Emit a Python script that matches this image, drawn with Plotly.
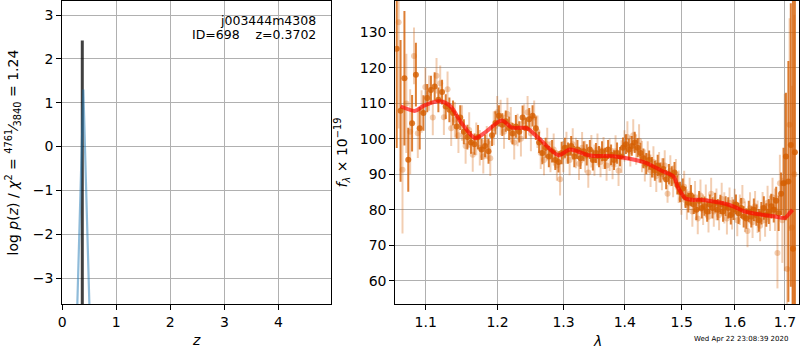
import plotly.graph_objects as go

# ---------------- data ----------------
# left panel: log p(z)
z_coarse = [0.19, 0.39, 0.59]
logp_coarse = [-7.45, 1.30, -7.50]
z_fine = [0.3695, 0.3702, 0.3709]
logp_fine = [-20.0, 2.42, -20.0]

obj_name = "j003444m4308"
obj_id = 698
z_best = 0.3702
chi2_num, chi2_den, chi2_red = 4761, 3840, 1.24
timestamp = "Wed Apr 22 23:08:39 2020"

left_xticks = [0, 1, 2, 3, 4]
left_yticks = [-3, -2, -1, 0, 1, 2, 3]
right_xticks = [1.1, 1.2, 1.3, 1.4, 1.5, 1.6, 1.7]
right_yticks = [60, 70, 80, 90, 100, 110, 120, 130]

# right panel: spectrum (dark points)
wave_dark = [
    1.062, 1.067, 1.072, 1.077, 1.082, 1.087, 1.092, 1.097, 1.102, 1.107,
    1.112, 1.117, 1.122, 1.127, 1.132, 1.137, 1.142, 1.147, 1.152, 1.157,
    1.162, 1.167, 1.172, 1.177, 1.182, 1.187, 1.192, 1.197, 1.202, 1.207,
    1.212, 1.217, 1.222, 1.227, 1.232, 1.237, 1.242, 1.247, 1.252, 1.257,
    1.262, 1.267, 1.272, 1.277, 1.282, 1.287, 1.292, 1.297, 1.302, 1.307,
    1.312, 1.317, 1.322, 1.327, 1.332, 1.337, 1.342, 1.347, 1.352, 1.357,
    1.362, 1.367, 1.372, 1.377, 1.382, 1.387, 1.392, 1.397, 1.402, 1.407,
    1.412, 1.417, 1.422, 1.427, 1.432, 1.437, 1.442, 1.447, 1.452, 1.457,
    1.462, 1.467, 1.472, 1.477, 1.482, 1.487, 1.492, 1.497, 1.502, 1.507,
    1.512, 1.517, 1.522, 1.527, 1.532, 1.537, 1.542, 1.547, 1.552, 1.557,
    1.562, 1.567, 1.572, 1.577, 1.582, 1.587, 1.592, 1.597, 1.602, 1.607,
    1.612, 1.617, 1.622, 1.627, 1.632, 1.637, 1.642, 1.647, 1.652, 1.657,
    1.662, 1.667, 1.672, 1.677, 1.682, 1.687, 1.692, 1.697, 1.702, 1.707,
    1.712, 1.7165, 1.7205,
]
flux_dark = [
    125.4, 107.9, 117.1, 94.1, 104.4, 118.1, 103.0, 107.3, 111.5, 113.8,
    114.8, 111.0, 113.2, 109.1, 108.2, 107.3, 103.5, 106.0, 102.0, 100.5,
    99.0, 98.5, 100.5, 97.0, 98.0, 96.5, 101.0, 104.5, 106.5, 104.0,
    105.0, 103.0, 101.5, 103.5, 102.0, 106.0, 103.0, 105.5, 106.5, 103.0,
    99.0, 96.0, 97.5, 95.0, 96.5, 94.0, 93.5, 96.0, 97.5, 96.0,
    98.0, 95.0, 97.0, 94.5, 96.5, 95.5, 97.0, 94.0, 96.0, 95.0,
    96.5, 94.5, 97.0, 95.5, 94.0, 96.0, 95.0, 97.5, 98.5, 97.0,
    98.0, 99.0, 97.5, 96.0, 94.5, 93.0, 94.0, 92.0, 91.0, 92.5,
    90.5, 91.5, 88.5, 90.0, 89.5, 90.5, 87.0, 85.0, 86.0, 83.5,
    82.0, 84.0, 81.5, 80.0, 82.5, 80.5, 81.0, 79.5, 81.5, 80.5,
    82.0, 80.0, 81.5, 79.5, 81.0, 80.5, 78.5, 80.0, 81.5, 79.0,
    80.5, 78.0, 77.5, 79.5, 78.0, 80.0, 78.5, 77.0, 79.0, 80.5,
    78.5, 79.5, 81.0, 80.0, 82.5, 79.0, 84.5, 87.5, 95.0, 88.0,
    98.3, 69.0, 96.2,
]
err_dark = [
    28.0, 20.0, 19.0, 9.0, 8.0, 9.0, 6.0, 5.0, 4.0, 4.0,
    4.0, 3.5, 3.5, 3.5, 3.5, 3.5, 3.5, 3.5, 3.5, 3.5,
    3.2, 3.0, 3.4, 3.0, 3.2, 3.5, 3.0, 3.3, 3.0, 3.2,
    3.0, 3.3, 3.0, 3.2, 3.0, 3.4, 3.0, 3.2, 3.0, 3.3,
    3.0, 3.2, 2.8, 3.0, 3.2, 2.8, 3.0, 3.2, 2.8, 3.0,
    2.8, 3.0, 2.7, 3.0, 2.8, 3.0, 2.7, 2.9, 2.8, 3.0,
    2.8, 3.0, 2.7, 2.9, 2.8, 3.0, 2.7, 2.9, 2.8, 3.0,
    2.8, 3.0, 2.7, 2.9, 2.8, 3.0, 2.7, 2.9, 2.8, 3.0,
    2.8, 3.0, 2.7, 2.9, 2.8, 3.0, 2.7, 2.9, 2.8, 3.0,
    2.8, 3.0, 2.7, 2.9, 2.8, 3.0, 2.7, 2.9, 2.8, 3.0,
    2.8, 3.0, 2.7, 2.9, 2.8, 3.0, 2.7, 2.9, 2.8, 3.0,
    2.8, 3.0, 2.9, 3.0, 3.0, 3.2, 3.0, 3.2, 3.2, 3.3,
    3.3, 3.5, 3.5, 3.6, 4.0, 5.0, 6.0, 10.0, 18.0, 34.0,
    40.0, 75.0, 60.0,
]

# right panel: spectrum (light points)
wave_light = [
    1.0645, 1.0695, 1.0745, 1.0795, 1.0845, 1.0895, 1.0945, 1.0995, 1.1045, 1.1095,
    1.1145, 1.1195, 1.1245, 1.1295, 1.1345, 1.1395, 1.1445, 1.1495, 1.1545, 1.1595,
    1.1645, 1.1695, 1.1745, 1.1795, 1.1845, 1.1895, 1.1945, 1.1995, 1.2045, 1.2095,
    1.2145, 1.2195, 1.2245, 1.2295, 1.2345, 1.2395, 1.2445, 1.2495, 1.2545, 1.2595,
    1.2645, 1.2695, 1.2745, 1.2795, 1.2845, 1.2895, 1.2945, 1.2995, 1.3045, 1.3095,
    1.3145, 1.3195, 1.3245, 1.3295, 1.3345, 1.3395, 1.3445, 1.3495, 1.3545, 1.3595,
    1.3645, 1.3695, 1.3745, 1.3795, 1.3845, 1.3895, 1.3945, 1.3995, 1.4045, 1.4095,
    1.4145, 1.4195, 1.4245, 1.4295, 1.4345, 1.4395, 1.4445, 1.4495, 1.4545, 1.4595,
    1.4645, 1.4695, 1.4745, 1.4795, 1.4845, 1.4895, 1.4945, 1.4995, 1.5045, 1.5095,
    1.5145, 1.5195, 1.5245, 1.5295, 1.5345, 1.5395, 1.5445, 1.5495, 1.5545, 1.5595,
    1.5645, 1.5695, 1.5745, 1.5795, 1.5845, 1.5895, 1.5945, 1.5995, 1.6045, 1.6095,
    1.6145, 1.6195, 1.6245, 1.6295, 1.6345, 1.6395, 1.6445, 1.6495, 1.6545, 1.6595,
    1.6645, 1.6695, 1.6745, 1.6795, 1.6845, 1.6895, 1.6945, 1.6995, 1.7045, 1.7095,
    1.7145, 1.7195,
]
flux_light = [
    132.9, 91.3, 110.0, 102.0, 123.4, 101.6, 107.7, 114.6, 112.9, 106.0,
    117.8, 115.7, 106.1, 114.0, 103.0, 105.4, 101.0, 104.5, 98.0, 102.5,
    95.5, 100.0, 97.5, 95.0, 99.0, 94.5, 103.0, 107.5, 106.0, 102.0,
    107.0, 104.0, 99.0, 102.5, 100.0, 105.0, 107.5, 101.5, 106.0, 102.0,
    96.0, 94.0, 98.5, 95.0, 97.0, 92.5, 88.6, 95.0, 97.5, 94.0,
    98.5, 96.0, 93.0, 97.5, 95.0, 90.5, 96.5, 94.0, 97.0, 93.5,
    96.0, 92.5, 95.5, 93.0, 96.5, 91.0, 95.0, 98.0, 100.5, 96.5,
    101.0, 97.0, 99.5, 95.0, 92.5, 95.0, 91.0, 93.5, 89.5, 92.0,
    90.0, 92.5, 84.5, 91.0, 88.0, 90.0, 86.5, 83.0, 86.5, 81.5,
    84.5, 79.5, 83.5, 77.5, 84.0, 80.0, 82.5, 78.0, 84.5, 79.5,
    81.5, 78.5, 83.0, 80.5, 77.5, 82.0, 79.0, 81.5, 77.0, 80.0,
    82.5, 78.0, 74.0, 80.5, 76.5, 81.0, 78.0, 75.5, 80.5, 77.0,
    82.0, 79.0, 83.5, 80.0, 67.8, 87.5, 77.0, 87.7, 63.3, 104.0,
    75.0, 90.0,
]
err_light = [
    30.0, 18.0, 14.0, 12.0, 8.0, 7.0, 6.0, 5.5, 5.0, 5.0,
    5.0, 5.0, 5.0, 5.0, 5.0, 5.0, 5.0, 5.0, 5.0, 5.0,
    4.8, 4.6, 5.0, 4.8, 4.6, 5.0, 4.8, 4.6, 5.0, 4.8,
    4.6, 5.0, 4.8, 4.6, 5.0, 4.8, 4.6, 5.0, 4.8, 4.6,
    4.5, 4.3, 4.6, 4.4, 4.5, 4.3, 4.6, 4.4, 4.5, 4.3,
    4.5, 4.3, 4.6, 4.4, 4.5, 4.3, 4.6, 4.4, 4.5, 4.3,
    4.5, 4.3, 4.6, 4.4, 4.5, 4.3, 4.6, 4.4, 4.5, 4.3,
    4.5, 4.3, 4.6, 4.4, 4.5, 4.3, 4.6, 4.4, 4.5, 4.3,
    4.5, 4.3, 2.5, 4.4, 4.5, 4.3, 4.6, 4.4, 4.5, 4.3,
    4.5, 4.3, 4.6, 4.4, 4.5, 4.3, 4.6, 4.4, 4.5, 4.3,
    4.5, 4.3, 4.6, 4.4, 4.5, 4.3, 4.6, 4.4, 4.5, 4.3,
    4.5, 4.3, 4.6, 4.4, 4.5, 4.3, 4.6, 4.4, 4.5, 4.6,
    4.8, 5.0, 5.5, 6.0, 10.0, 8.0, 12.0, 25.0, 15.0, 30.0,
    40.0, 45.0,
]

# model
model_wave = [
    1.067, 1.086, 1.097, 1.119, 1.133, 1.149, 1.168, 1.184, 1.206, 1.221,
    1.243, 1.2635, 1.292, 1.310, 1.342, 1.381, 1.401, 1.435, 1.464, 1.485,
    1.494, 1.506, 1.518, 1.534, 1.556, 1.581, 1.599, 1.619, 1.653, 1.679,
    1.700, 1.710, 1.7155,
]
model_flux = [
    109.2, 107.9, 109.3, 110.6, 109.3, 104.4, 100.2, 102.1, 105.2, 103.2,
    103.0, 99.8, 95.4, 97.0, 95.3, 95.1, 94.6, 93.3, 91.0, 89.4,
    86.1, 83.3, 82.8, 82.8, 82.4, 81.7, 80.8, 79.5, 78.6, 78.1,
    77.7, 79.1, 80.0,
]

# ---------------- figure ----------------
W, H = 800, 350
FONT = "DejaVu Sans"
G141 = "213,94,0"


def px_x(p):
    return p / W


def px_y(p):
    return 1 - p / H


fig = go.Figure()

# left panel
fig.add_trace(go.Scatter(x=z_fine, y=logp_fine, mode="lines",
                         line=dict(color="rgba(0,0,0,0.75)", width=3),
                         xaxis="x", yaxis="y", hoverinfo="skip"))
fig.add_trace(go.Scatter(x=z_coarse, y=logp_coarse, mode="lines",
                         line=dict(color="rgba(31,119,180,0.5)", width=2.2),
                         xaxis="x", yaxis="y", hoverinfo="skip"))

# right panel
fig.add_trace(go.Scatter(
    x=wave_light, y=flux_light, mode="markers",
    marker=dict(color=f"rgba({G141},0.3)", size=6, line=dict(width=0)),
    error_y=dict(type="data", array=err_light, visible=True,
                 color=f"rgba({G141},0.3)", thickness=2, width=0),
    xaxis="x2", yaxis="y2", hoverinfo="skip"))
fig.add_trace(go.Scatter(
    x=wave_dark, y=flux_dark, mode="markers",
    marker=dict(color=f"rgba({G141},0.8)", size=6, line=dict(width=0)),
    error_y=dict(type="data", array=err_dark, visible=True,
                 color=f"rgba({G141},0.8)", thickness=2, width=0),
    xaxis="x2", yaxis="y2", hoverinfo="skip"))
fig.add_trace(go.Scatter(x=model_wave, y=model_flux, mode="lines",
                         line=dict(color="rgba(255,0,0,0.65)", width=4, shape="spline", smoothing=0.8),
                         xaxis="x2", yaxis="y2", hoverinfo="skip"))

ydom = [px_y(304), px_y(1)]
axis_common = dict(showgrid=True, gridcolor="#b0b0b0", gridwidth=1,
                   showline=True, mirror=True, linecolor="black", linewidth=1,
                   ticks="outside", ticklen=5, tickcolor="black", tickwidth=1,
                   tickfont=dict(family=FONT, size=14, color="black"),
                   zeroline=False)

fig.update_layout(
    width=W, height=H,
    margin=dict(l=0, r=0, t=0, b=0, autoexpand=False),
    paper_bgcolor="white", plot_bgcolor="white",
    showlegend=False,
    font=dict(family=FONT, color="black"),
    xaxis=dict(domain=[px_x(62.3), px_x(331)], range=[0, 4.975],
               tickvals=left_xticks, ticktext=[str(v) for v in left_xticks],
               anchor="y", **axis_common),
    yaxis=dict(domain=ydom, range=[-3.59, 3.32],
               tickvals=left_yticks, anchor="x", **axis_common),
    xaxis2=dict(domain=[px_x(395.3), px_x(799)], type="log",
                range=[0.02539, 0.23782],
                tickvals=right_xticks, ticktext=[f"{v:.1f}" for v in right_xticks],
                anchor="y2", **axis_common),
    yaxis2=dict(domain=ydom, range=[53.4, 138.9],
                tickvals=right_yticks, anchor="x2", **axis_common),
)

ann = []
ann.append(dict(text=obj_name, x=px_x(318), y=px_y(20), xanchor="right", yanchor="middle",
                font=dict(size=12.5)))
ann.append(dict(text=f"ID={obj_id}\u00a0\u00a0\u00a0\u00a0z={z_best:.4f}", x=px_x(318), y=px_y(35),
                xanchor="right", yanchor="middle", font=dict(size=12.5)))
ann.append(dict(text=(f"log <i>p</i>(<i>z</i>) / <i>χ</i><sup>2</sup> = "
                      f"<sup>{chi2_num}</sup>⁄<sub>{chi2_den}</sub> = {chi2_red:.2f}"),
                x=px_x(13), y=px_y(152.5), textangle=-90, xanchor="center", yanchor="middle",
                font=dict(size=14)))
ann.append(dict(text="<i>f</i><sub><i>λ</i></sub> × 10<sup>−19</sup>",
                x=px_x(342), y=px_y(152.5), textangle=-90, xanchor="center", yanchor="middle",
                font=dict(size=14)))
ann.append(dict(text="<i>z</i>", x=px_x(196.5), y=px_y(340), xanchor="center", yanchor="middle",
                font=dict(size=14)))
ann.append(dict(text="<i>λ</i>", x=px_x(597), y=px_y(341), xanchor="center", yanchor="middle",
                font=dict(size=14)))
ann.append(dict(text=timestamp, x=px_x(741), y=px_y(339), xanchor="center", yanchor="middle",
                font=dict(size=7)))
for a in ann:
    a.update(xref="paper", yref="paper", showarrow=False)
    a["font"].update(family=FONT, color="black")
fig.update_layout(annotations=ann)

post = ("document.body.style.margin='0';document.body.style.padding='0';"
        "document.body.style.overflow='hidden';"
        "document.documentElement.style.overflow='hidden';")
fig.write_html("out.html", config={"displayModeBar": False}, post_script=post)
